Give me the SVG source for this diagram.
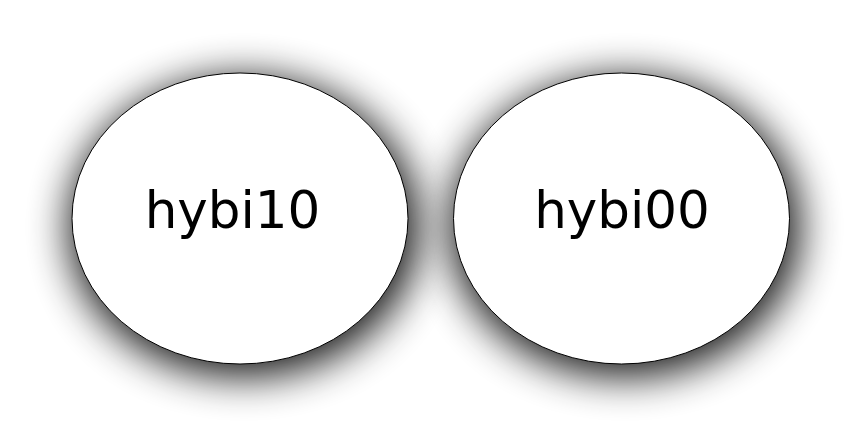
<svg xmlns="http://www.w3.org/2000/svg" width="864" height="439" viewBox="0 0 864 439">
<style>
.node{fill:#fff;stroke:#000;stroke-width:1}
.shadow{fill:#000;opacity:0.9;filter:url(#blur)}
.label{font-family:"DejaVu Sans",sans-serif;font-size:51.5px;text-anchor:middle;fill:#000}
</style>
<defs>
<filter id="blur" x="-40%" y="-40%" width="180%" height="180%"><feGaussianBlur stdDeviation="20"/></filter>
</defs>
<rect width="864" height="439" fill="#fff"/>
<g id="connectors"></g>
<g id="hybi10">
<ellipse class="shadow" cx="244" cy="227" rx="175" ry="150"/>
<ellipse class="node" cx="240" cy="218.5" rx="168" ry="145.5"/>
<text class="label" x="232.5" y="228">hybi10</text>
</g>
<g id="hybi00">
<ellipse class="shadow" cx="625" cy="227" rx="175" ry="150"/>
<ellipse class="node" cx="621.5" cy="218.5" rx="168" ry="145.5"/>
<text class="label" x="622" y="228">hybi00</text>
</g>
</svg>
